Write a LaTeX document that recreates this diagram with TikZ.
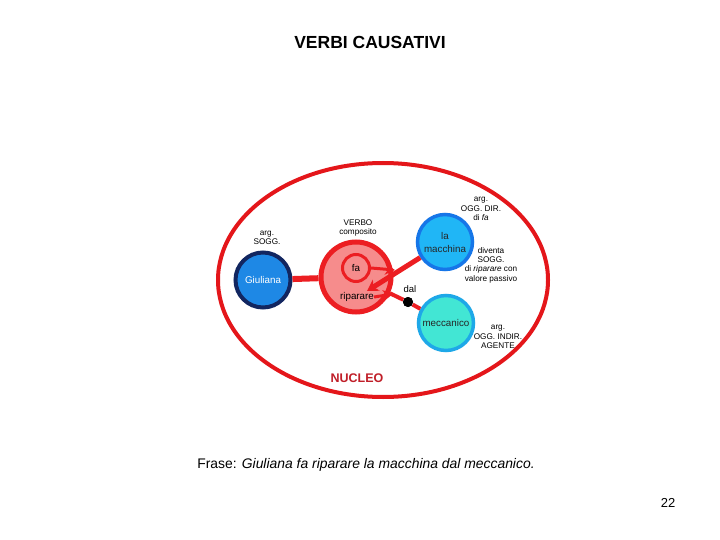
\documentclass[tikz,border=0pt]{standalone}
\usepackage{fontspec}
\setmainfont{Liberation Sans}
\usetikzlibrary{arrows.meta}
\definecolor{ellred}{RGB}{228,22,26}
\definecolor{verbred}{RGB}{236,30,34}
\definecolor{verbfill}{RGB}{246,140,140}
\definecolor{giufill}{RGB}{30,136,229}
\definecolor{giuborder}{RGB}{18,38,96}
\definecolor{macfill}{RGB}{32,182,246}
\definecolor{macborder}{RGB}{22,118,232}
\definecolor{mecfill}{RGB}{66,230,212}
\definecolor{mecborder}{RGB}{30,168,232}
\definecolor{nucleo}{RGB}{192,30,40}
\newcommand{\fs}[2]{\fontsize{#1}{#2}\selectfont}
\tikzset{
  ball/.style={circle, inner sep=0pt, align=center},
  small/.style={font=\fs{8.2}{9.3}, align=center, inner sep=0pt},
  inner/.style={font=\fs{9.5}{12}, align=center, inner sep=0pt},
  redline/.style={draw=verbred, line width=4.5pt},
  tipline/.style={draw=verbred, line width=3pt, -{Stealth[length=10pt,width=11pt]}},
}
\begin{document}
\begin{tikzpicture}[x=1pt,y=-1pt]
\useasboundingbox (0,0) rectangle (720,540);
\fill[white] (0,0) rectangle (720,540);

\node[font=\bfseries\fs{17.5}{20}, inner sep=0pt] (title) at (370,42) {VERBI CAUSATIVI};

% big ellipse
\draw[ellred, line width=4pt] (383,280) ellipse [x radius=165, y radius=117];
\node[font=\bfseries\fs{12.5}{14}, text=nucleo, inner sep=0pt] (nuc) at (357,378) {NUCLEO};

% nodes
\node[ball, minimum size=55pt, fill=giufill, draw=giuborder, line width=4pt,
      font=\fs{9.8}{12}, text=white] (giu) at (263,280) {Giuliana};
\node[ball, minimum size=70pt, fill=verbfill, draw=verbred, line width=5pt] (verbo) at (356,277) {};
\node[ball, minimum size=27pt, fill=verbfill, draw=verbred, line width=3pt, font=\fs{9.8}{12}] (fa) at (356,268) {fa};
\node[inner, font=\fs{9.8}{12}] (rip) at (357,297) {riparare};
\node[ball, minimum size=55pt, fill=macfill, draw=macborder, line width=3.5pt,
      font=\fs{9.8}{13}, text=black!85] (mac) at (445,242) {la\\macchina};
\node[ball, minimum size=55pt, fill=mecfill, draw=mecborder, line width=3.5pt,
      font=\fs{9.8}{12}, text=black!85] (mec) at (446,323) {meccanico};
\node[circle, fill=black, inner sep=0pt, minimum size=10pt] (dot) at (408,302) {};

% labels
\node[small] (lsogg) at (267,238) {arg.\\SOGG.};
\node[small] (lverbo) at (358,228) {VERBO\\composito};
\node[small] (ldir) at (481,209) {arg.\\OGG.\ DIR.\\di \textit{fa}};
\node[small] (ldiv) at (491,265) {diventa\\SOGG.\\di \textit{riparare} con\\valore passivo};
\node[small] (lind) at (498,337) {arg.\\OGG.\ INDIR.\\AGENTE};
\node[inner] (ldal) at (410,289) {dal};

% connectors
\draw[redline, line width=6pt] (giu) -- (verbo);
\coordinate (tipR) at (367,291);
\draw[redline, line width=5pt, -{Stealth[length=11pt,width=13pt]}] (mac) -- (tipR);
\coordinate (j1) at (395,270);
\draw[tipline] (fa.east) -- (j1);
\coordinate (j2) at (393,294);
\draw[tipline] (rip.east) -- (j2);
\draw[redline, line width=4pt] (verbo) -- (dot);
\draw[redline, line width=4pt] (dot) -- (mec);
\node[circle, fill=black, inner sep=0pt, minimum size=10pt] at (dot) {};

% sentence
\node[font=\fs{13.9}{16}, inner sep=0pt] (frase) at (366,465) {Frase: \textit{Giuliana fa riparare la macchina dal meccanico.}};
\node[font=\fs{13}{15}, inner sep=0pt] (page) at (668,503) {22};
\end{tikzpicture}
\end{document}
